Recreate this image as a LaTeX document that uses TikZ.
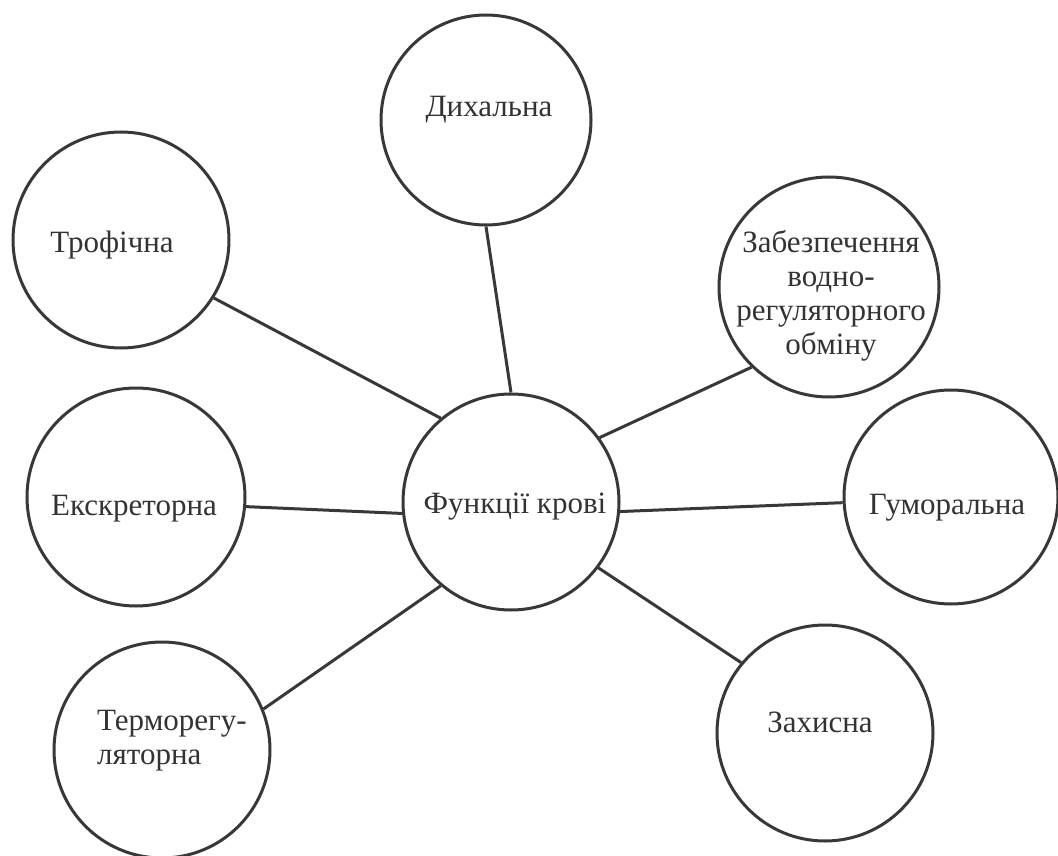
\documentclass[tikz,border=0pt]{standalone}
\usepackage{fontspec}
\setmainfont{Liberation Serif}
\begin{document}
\begin{tikzpicture}[x=1pt,y=-1pt,
  bubble/.style={circle, draw=ink, line width=3pt, fill=white, inner sep=0pt},
  lbl/.style={text=txt, font=\fontsize{31}{34}\selectfont, inner sep=0pt},
  link/.style={draw=ink, line width=3pt}]
\definecolor{ink}{HTML}{383838}
\definecolor{txt}{HTML}{333333}
\useasboundingbox[fill=white] (0,0) rectangle (1058,856);
% circles
\node[bubble, minimum size=216pt] (c) at (511,502) {};
\node[bubble, minimum size=210pt] (dykh) at (486,120) {};
\node[bubble, minimum size=216pt] (troph) at (121,240) {};
\node[bubble, minimum size=220pt] (zabez) at (829,287) {};
\node[bubble, minimum size=218pt] (exc) at (136,497) {};
\node[bubble, minimum size=214pt] (hum) at (951,497) {};
\node[bubble, minimum size=216pt] (thermo) at (162,750) {};
\node[bubble, minimum size=216pt] (zakh) at (825,733) {};
% connectors
\draw[link] (dykh.south) -- (c.north);
\draw[link] (troph.-32) -- (c.130);
\draw[link] (zabez.226) -- (c.36);
\draw[link] (exc.-5) -- (c.186);
\draw[link] (c.-5) -- (hum.183);
\draw[link] (c.-37) -- (zakh.140);
\draw[link] (c.230) -- (thermo.22);
% labels
\node[lbl, anchor=base] (tc) at (515,513) {Функції крові};
\node[lbl, anchor=base] (tdykh) at (489,117) {Дихальна};
\node[lbl, anchor=base] (ttroph) at (112,252) {Трофічна};
\node[lbl, align=center] (tzabez) at (831,296) {Забезпечення\\водно-\\регуляторного\\обміну};
\node[lbl, anchor=base] (texc) at (134,515) {Екскреторна};
\node[lbl, anchor=base] (thum) at (947,514) {Гуморальна};
\node[lbl, align=left, anchor=west] (tthermo) at (97,741) {Терморегу-\\ляторна};
\node[lbl, anchor=base] (tzakh) at (820,732) {Захисна};
\end{tikzpicture}
\end{document}
